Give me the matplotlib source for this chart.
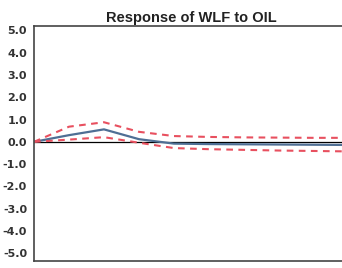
import matplotlib
matplotlib.use("Agg")
import matplotlib.pyplot as plt

# impulse response of WLF to OIL, periods 1..10
periods = [1, 2, 3, 4, 5, 6, 7, 8, 9, 10]
response = [0.0, 0.30, 0.56, 0.12, -0.08, -0.10, -0.11, -0.12, -0.13, -0.14]
upper = [0.0, 0.68, 0.88, 0.45, 0.26, 0.22, 0.20, 0.19, 0.18, 0.18]
lower = [0.0, 0.10, 0.21, -0.04, -0.28, -0.33, -0.36, -0.39, -0.41, -0.43]
yticks = [5.0, 4.0, 3.0, 2.0, 1.0, 0.0, -1.0, -2.0, -3.0, -4.0, -5.0]

fig = plt.figure(figsize=(3.42, 2.68), dpi=100)
ax = fig.add_axes([0.0994, 0.026, 0.9206, 0.877])

ax.axhline(0, color="black", lw=0.9)
ax.plot(periods, response, color="#4f6f94", lw=1.6)
ax.plot(periods, upper, color="#e8505f", lw=1.5, ls=(0, (3.2, 2.6)))
ax.plot(periods, lower, color="#e8505f", lw=1.5, ls=(0, (3.2, 2.6)))

ax.set_xlim(1, 10)
ax.set_ylim(-5.35, 5.2)
ax.set_yticks(yticks)
ax.set_yticklabels([f"{v:.1f}" for v in yticks], fontsize=8,
                   fontweight="bold", color="#333333", family="DejaVu Sans")
ax.set_xticks([])
ax.tick_params(axis="y", length=0, pad=5)

for s in ["left", "top", "bottom"]:
    ax.spines[s].set_color("#444444")
    ax.spines[s].set_linewidth(1.2)
ax.spines["right"].set_visible(False)

ax.set_title("Response of WLF to OIL", fontsize=10.5, fontweight="bold",
             family="Liberation Sans", color="#222222", pad=3)

fig.savefig("out.png", dpi=100)
